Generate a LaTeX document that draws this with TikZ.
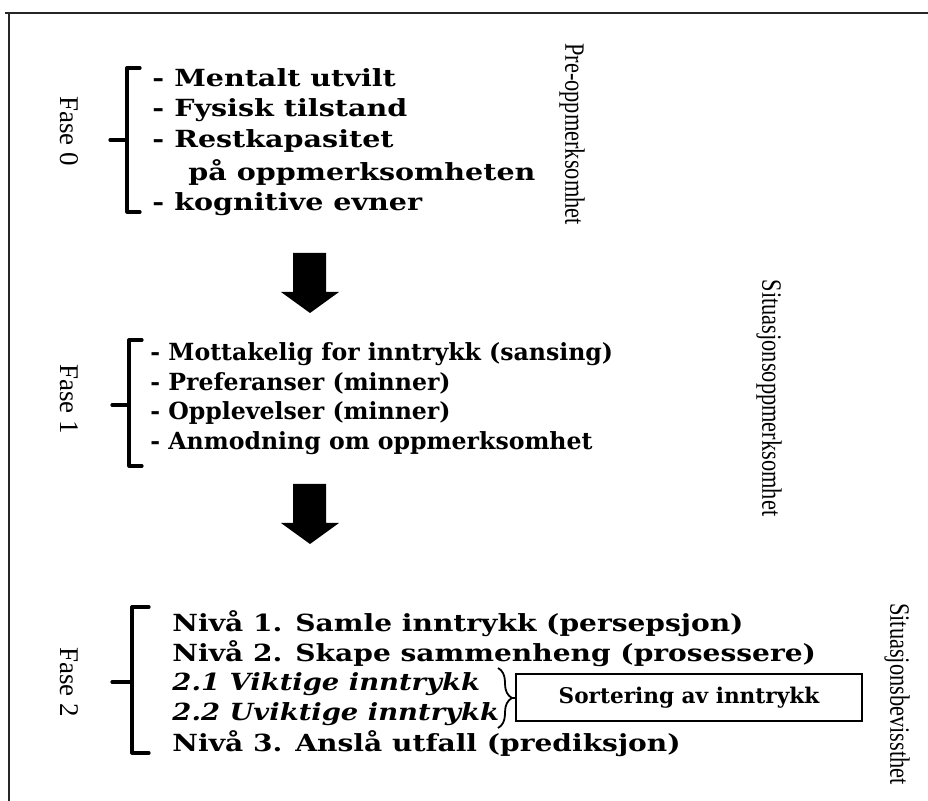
\documentclass[tikz,border=0pt]{standalone}
\usepackage{fontspec}
\setmainfont{DejaVu Serif}
\newfontfamily\sidefont{Liberation Serif}
\usetikzlibrary{decorations.pathreplacing}
\begin{document}
\begin{tikzpicture}[x=0.5pt,y=-0.5pt,
  item/.style={anchor=west,inner sep=0pt,font=\fontsize{11.8}{14}\selectfont\bfseries},
  wideitem/.style={item,xscale=1.19},
  zeroitem/.style={item,xscale=1.21},
  wideit/.style={item,xscale=1.16,font=\fontsize{11.8}{14}\selectfont\bfseries\itshape},
  fase/.style={rotate=-90,inner sep=0pt,font=\sidefont\fontsize{13.5}{15}\selectfont},
  side/.style={rotate=-90,inner sep=0pt,xscale=0.8,font=\sidefont\fontsize{14}{16}\selectfont},
  bracket/.style={line width=1.6pt,line cap=round,line join=round},
  blockarrow/.style={fill=black},
  framepen/.style={line width=1.2pt,black!85}]
\useasboundingbox (0,0) rectangle (928,801);

% outer frame (only top and left edges are inside the page)
\draw[framepen] (5,13) -- (935,13);
\draw[framepen] (9,13) -- (9,810);

% ---------- Fase 0 ----------
\node[fase] (f0) at (69,131) {Fase 0};
\draw[bracket] (140,68) -- (127,68) -- (127,212) -- (140,212);
\draw[bracket] (127,140) -- (110,140);
\node[zeroitem] (a1) at (152,78)  {- Mentalt utvilt};
\node[zeroitem] (a2) at (152,110) {- Fysisk tilstand};
\node[zeroitem] (a3) at (152,141) {- Restkapasitet};
\node[zeroitem] (a4) at (188,172) {på oppmerksomheten};
\node[zeroitem] (a5) at (152,204) {- kognitive evner};
\node[side] (s0) at (572,134) {Pre-oppmerksomhet};

% arrow 0 -> 1
\fill[blockarrow] (293,253) -- (326,253) -- (326,292) -- (339,292) -- (310,313)
  -- (281,292) -- (293,292) -- cycle;

% ---------- Fase 1 ----------
\node[fase] (f1) at (69,399) {Fase 1};
\draw[bracket] (142,340) -- (129,340) -- (129,466) -- (142,466);
\draw[bracket] (129,405) -- (112,405);
\node[item] (b1) at (150,354) {- Mottakelig for inntrykk (sansing)};
\node[item] (b2) at (150,383) {- Preferanser (minner)};
\node[item] (b3) at (150,413) {- Opplevelser (minner)};
\node[item] (b4) at (150,443) {- Anmodning om oppmerksomhet};
\node[side] (s1) at (769,398) {Situasjonsoppmerksomhet};

% arrow 1 -> 2
\fill[blockarrow] (293,484) -- (326,484) -- (326,523) -- (339,523) -- (310,544)
  -- (281,523) -- (293,523) -- cycle;

% ---------- Fase 2 ----------
\node[fase] (f2) at (69,682) {Fase 2};
\draw[bracket] (149,607) -- (132,607) -- (132,753) -- (149,753);
\draw[bracket] (132,682) -- (112,682);
\node[wideitem] (c1) at (172,624) {Nivå 1. Samle inntrykk (persepsjon)};
\node[wideitem] (c2) at (172,654) {Nivå 2. Skape sammenheng (prosessere)};
\node[wideit]   (c3) at (172,684) {2.1 Viktige inntrykk};
\node[wideit]   (c4) at (172,714) {2.2 Uviktige inntrykk};
\node[wideitem] (c5) at (172,744) {Nivå 3. Anslå utfall (prediksjon)};
\node[side] (s2) at (897,694) {Situasjonsbevissthet};

% sorting box with brace
\node[draw,line width=1pt,minimum width=173pt,minimum height=23.5pt,inner sep=0pt,
  font=\fontsize{10.8}{13}\selectfont\bfseries] (sort) at (689,698) {Sortering av inntrykk};
\draw[line width=0.9pt,decorate,decoration={brace,amplitude=7pt}]
  (498,668) -- (498,728);
\coordinate (btip) at (512,698);
\draw[line width=0.9pt] (btip) -- (sort.west);
\end{tikzpicture}
\end{document}
